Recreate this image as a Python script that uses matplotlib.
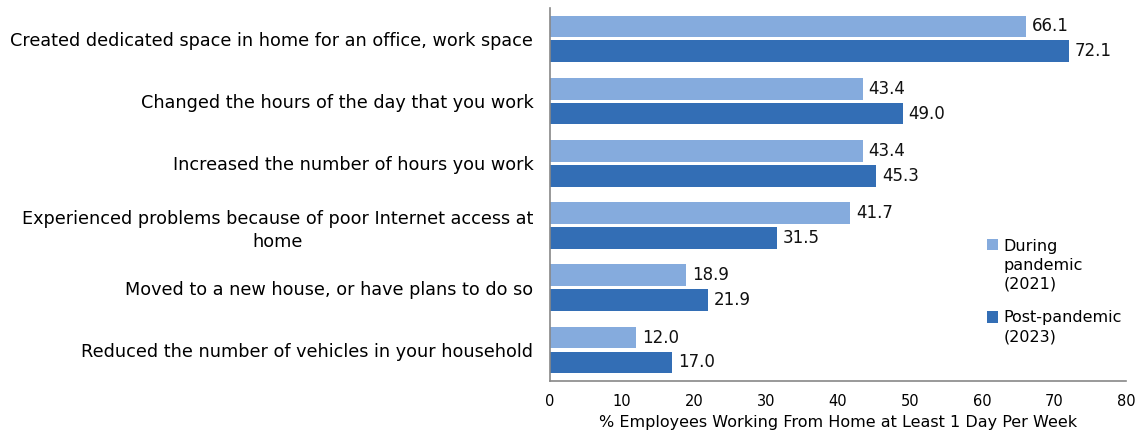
import matplotlib.pyplot as plt
import numpy as np

plt.rcParams['font.family'] = ['DejaVu Sans']

# Survey items, top to bottom
items = [
    'Created dedicated space in home for an office, work space',
    'Changed the hours of the day that you work',
    'Increased the number of hours you work',
    'Experienced problems because of poor Internet access at\nhome',
    'Moved to a new house, or have plans to do so',
    'Reduced the number of vehicles in your household',
]
during = [66.1, 43.4, 43.4, 41.7, 18.9, 12.0]
post = [72.1, 49.0, 45.3, 31.5, 21.9, 17.0]

c_during = '#85abdd'
c_post = '#336eb5'

fig = plt.figure(figsize=(11.41, 4.34), dpi=100)
ax = fig.add_axes([0.482, 0.122, 0.505, 0.86])

y = np.arange(len(items))
h = 0.35
off = 0.2

b1 = ax.barh(y - off, during, height=h, color=c_during, label='During\npandemic\n(2021)')
b2 = ax.barh(y + off, post, height=h, color=c_post, label='Post-pandemic\n(2023)')

for bars, vals in ((b1, during), (b2, post)):
    for bar, v in zip(bars, vals):
        ax.text(bar.get_width() + 0.8, bar.get_y() + bar.get_height() / 2,
                f'{v:.1f}', va='center', ha='left', fontsize=12, color='#111111')

ax.set_ylim(len(items) - 0.5, -0.5)
ax.set_xlim(0, 80)
ax.set_xticks(range(0, 81, 10))
ax.set_yticks(y)
ax.set_yticklabels(items, fontsize=12.7)
for lbl in ax.get_yticklabels():
    lbl.set_multialignment('center')
    lbl.set_linespacing(1.4)
ax.tick_params(axis='y', length=0, pad=12)
ax.tick_params(axis='x', length=0, pad=9, labelsize=10.5)
ax.set_xlabel('% Employees Working From Home at Least 1 Day Per Week', fontsize=11.5, labelpad=5)

for s in ('top', 'right'):
    ax.spines[s].set_visible(False)
for s in ('left', 'bottom'):
    ax.spines[s].set_color('#888888')
    ax.spines[s].set_linewidth(1.2)

leg = fig.legend(loc='upper left', bbox_to_anchor=(0.859, 0.465), frameon=False,
                 fontsize=11.5, handlelength=0.7, handleheight=0.7, handletextpad=0.35,
                 labelspacing=1.15, borderaxespad=0)
for t in leg.get_texts():
    t.set_linespacing(1.35)

# move the colour squares up to sit beside the first line of each label
line_pt = 11.5 * 1.35
for patch, n in zip(leg.legend_handles, (3, 2)):
    patch.set_y(patch.get_y() + line_pt * (n - 1) / 2)

fig.savefig('out.png', dpi=100)
